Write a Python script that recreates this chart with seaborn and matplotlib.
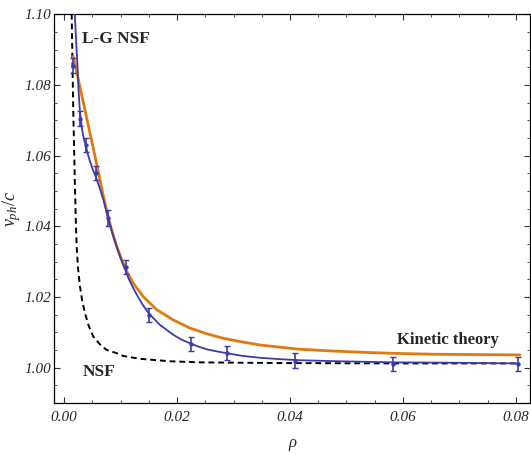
import matplotlib
matplotlib.use("Agg")
import matplotlib.pyplot as plt
import seaborn as sns
import numpy as np
import pandas as pd
from matplotlib.ticker import MultipleLocator

# ---- data ----
data_rho = [0.00149, 0.00278, 0.00384, 0.00556, 0.00768, 0.01087, 0.0150, 0.0224, 0.0289, 0.0408, 0.0582, 0.0804]
data_v = [1.0855, 1.0705, 1.0630, 1.0550, 1.0424, 1.0286, 1.0150, 1.0068, 1.0041, 1.0020, 1.0011, 1.0011]
data_err = [0.0021, 0.0021, 0.0021, 0.0020, 0.0022, 0.0020, 0.0020, 0.0020, 0.0020, 0.0021, 0.0020, 0.0020]

lg_rho = [0.00182, 0.00195, 0.00213, 0.00230, 0.00252, 0.00278, 0.00314, 0.00349, 0.00384, 0.00420,
          0.00455, 0.00505, 0.00556, 0.00624, 0.00691, 0.00779, 0.00854, 0.00928, 0.01001, 0.01075,
          0.01146, 0.01222, 0.01297, 0.01371, 0.01444, 0.01518, 0.01695, 0.01814, 0.01931, 0.02080,
          0.02227, 0.02369, 0.02523, 0.02700, 0.02877, 0.03171, 0.03467, 0.03821, 0.04175, 0.04884,
          0.05828, 0.06833, 0.08014]
lg_v = [1.1020, 1.0972, 1.0916, 1.0867, 1.0788, 1.0723, 1.0675, 1.0646, 1.0626, 1.0603,
        1.0584, 1.0561, 1.0541, 1.0510, 1.0476, 1.0422, 1.0379, 1.0342, 1.0308, 1.0279,
        1.0250, 1.0225, 1.0203, 1.0183, 1.0165, 1.0150, 1.0121, 1.0107, 1.0093, 1.0079,
        1.0069, 1.0060, 1.0052, 1.0046, 1.0041, 1.0033, 1.0028, 1.0024, 1.0021, 1.0018,
        1.0015, 1.0014, 1.0012]

kin_rho = [0.00159, 0.00248, 0.00337, 0.00425, 0.00514, 0.00602, 0.00691, 0.00779, 0.00854, 0.00928,
           0.01075, 0.01222, 0.01399, 0.01637, 0.01931, 0.02227, 0.02523, 0.02817, 0.03113, 0.03467,
           0.03821, 0.04175, 0.04760, 0.05357, 0.05947, 0.06537, 0.07293, 0.08073]
kin_v = [1.0881, 1.0816, 1.0751, 1.0686, 1.0621, 1.0555, 1.0487, 1.0425, 1.0383, 1.0344,
         1.0282, 1.0239, 1.0201, 1.0164, 1.0135, 1.0112, 1.0096, 1.0083, 1.0074, 1.0064,
         1.0058, 1.0052, 1.0047, 1.0043, 1.0040, 1.0038, 1.0037, 1.0036]

nsf_rho = [0.00128, 0.00131, 0.00140, 0.00149, 0.00159, 0.00172, 0.00190, 0.00204, 0.00220, 0.00243,
           0.00278, 0.00319, 0.00367, 0.00434, 0.00514, 0.00632, 0.00751, 0.00928, 0.01045, 0.01341,
           0.01873, 0.02404, 0.03821, 0.05947, 0.08073]
nsf_v = [1.1029, 1.1003, 1.0915, 1.0825, 1.0731, 1.0638, 1.0504, 1.0419, 1.0343, 1.0283,
         1.0230, 1.0189, 1.0154, 1.0118, 1.0088, 1.0066, 1.0050, 1.0041, 1.0033, 1.0025,
         1.0018, 1.0015, 1.0013, 1.0012, 1.0012]

x_ticks = [0.00, 0.02, 0.04, 0.06, 0.08]
y_ticks = [1.00, 1.02, 1.04, 1.06, 1.08, 1.10]

sns.set_style("ticks")
plt.rcParams['font.family'] = ['Liberation Serif', 'DejaVu Serif']
plt.rcParams['mathtext.fontset'] = 'custom'
plt.rcParams['mathtext.rm'] = 'Liberation Serif'
plt.rcParams['mathtext.it'] = 'Liberation Serif:italic'

fig = plt.figure(figsize=(5.31, 4.55), dpi=100)
ax = fig.add_axes([0.102, 0.1143, 0.896, 0.8543])

BLUE = '#3c3ca8'
ORANGE = '#e07a10'

sns.lineplot(x=nsf_rho, y=nsf_v, ax=ax, sort=False, estimator=None, color='black',
             linewidth=1.4, linestyle=(0, (3.0, 2.0)), zorder=2)
sns.lineplot(x=kin_rho, y=kin_v, ax=ax, sort=False, estimator=None, color=ORANGE,
             linewidth=2.0, zorder=3)
sns.lineplot(x=lg_rho, y=lg_v, ax=ax, sort=False, estimator=None, color=BLUE,
             linewidth=1.3, zorder=4)
ax.errorbar(data_rho, data_v, yerr=data_err, fmt='none', ecolor=BLUE, elinewidth=1.2,
            capsize=2.5, capthick=1.0, zorder=5)
sns.scatterplot(x=data_rho, y=data_v, ax=ax, color=BLUE, s=10, edgecolor=BLUE,
                linewidth=0, zorder=6)

ax.set_xlim(-0.00179, 0.0825)
ax.set_ylim(0.99, 1.10)
ax.set_xticks(x_ticks)
ax.set_yticks(y_ticks)
ax.set_xticklabels([f"{t:.2f}" for t in x_ticks])
ax.set_yticklabels([f"{t:.2f}" for t in y_ticks])
ax.xaxis.set_minor_locator(MultipleLocator(0.005))
ax.yaxis.set_minor_locator(MultipleLocator(0.005))
ax.tick_params(which='both', direction='in', top=True, right=True, color='#333333')
ax.tick_params(which='major', length=4, width=0.8, labelsize=11)
ax.tick_params(which='minor', length=2.2, width=0.6)
ax.tick_params(axis='x', which='major', pad=6)
ax.tick_params(axis='y', which='major', pad=2)
for lab in ax.get_xticklabels() + ax.get_yticklabels():
    lab.set_fontstyle('italic')
for s in ax.spines.values():
    s.set_linewidth(0.9)
    s.set_color('black')

ax.set_xlabel('ρ', fontsize=12, fontstyle='italic', labelpad=8)
ax.set_ylabel('$v_{ph}/c$', fontsize=13, labelpad=1)

ax.text(0.00313, 1.0930, 'L-G NSF', fontsize=12.5, fontweight='bold', ha='left', va='center')
ax.text(0.00325, 0.9988, 'NSF', fontsize=12.5, fontweight='bold', ha='left', va='center')
ax.text(0.0589, 1.0078, 'Kinetic theory', fontsize=12, fontweight='bold', ha='left', va='center')

fig.savefig('out.png', dpi=100)
